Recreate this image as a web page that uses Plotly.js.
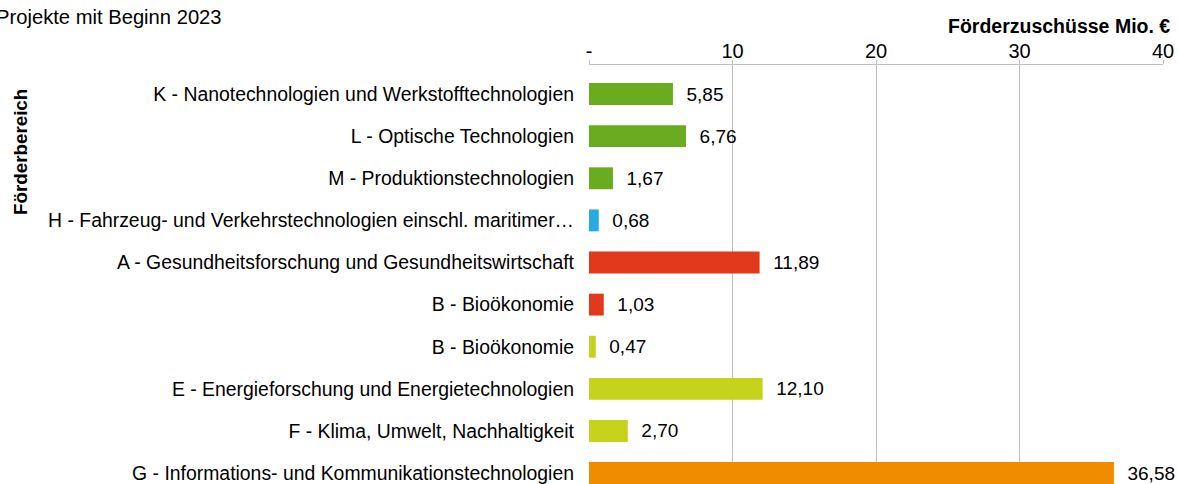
<!DOCTYPE html>
<html><head><meta charset="utf-8">
<script src="https://cdn.plot.ly/plotly-3.0.1.min.js"></script>
<style>html,body{margin:0;padding:0;background:#fff}</style>
</head><body>
<div id="chart" style="width:1178px;height:484px"></div>
<script>
const categories = [
  "K - Nanotechnologien und Werkstofftechnologien",
  "L - Optische Technologien",
  "M - Produktionstechnologien",
  "H - Fahrzeug- und Verkehrstechnologien einschl. maritimer…",
  "A - Gesundheitsforschung und Gesundheitswirtschaft",
  "B - Bioökonomie",
  "B - Bioökonomie",
  "E - Energieforschung und Energietechnologien",
  "F - Klima, Umwelt, Nachhaltigkeit",
  "G - Informations- und Kommunikationstechnologien"
];
const values = [5.85, 6.76, 1.67, 0.68, 11.89, 1.03, 0.47, 12.10, 2.70, 36.58];
const barColors = ["#6aac1f","#6aac1f","#6aac1f","#2aa8e0","#e2381b","#e2381b","#c5d41a","#c5d41a","#c5d41a","#f08c00"];
const xTickVals = [0, 10, 20, 30, 40];
const xTickText = ["-", "10", "20", "30", "40"];
const subtitle = "Projekte mit Beginn 2023";
const xTitle = "Förderzuschüsse Mio. €";
const yTitle = "Förderbereich";

const positions = categories.map((_, i) => i);
const fmt = v => v.toFixed(2).replace(".", ",");
const FONT = "Liberation Sans, Arial, sans-serif";

const L = 589, R = 15, W = 1178, T = 65, H = 484;
const pw = W - L - R, ph = H - T;
const px = p => (p - L) / pw;
const py = p => 1 - (p - T) / ph;

const trace = {
  type: "bar",
  orientation: "h",
  x: values,
  y: positions,
  width: 0.52,
  marker: {color: barColors},
  text: values.map(v => "  " + fmt(v)),
  textposition: "outside",
  textfont: {family: FONT, size: 19, color: "#000"},
  cliponaxis: false,
  constraintext: "none",
  hoverinfo: "none"
};

const layout = {
  width: W, height: H,
  margin: {l: L, r: R, t: T, b: 0, pad: 0},
  paper_bgcolor: "#fff", plot_bgcolor: "#fff",
  showlegend: false,
  font: {family: FONT, size: 19, color: "#000"},
  xaxis: {
    side: "top", range: [0, 40], tickvals: xTickVals, ticktext: xTickText,
    showgrid: true, gridcolor: "#bfbfbf", gridwidth: 1,
    showline: true, linecolor: "#bfbfbf", linewidth: 1,
    ticks: "outside", ticklen: 4, tickcolor: "#bfbfbf",
    ticklabelstandoff: -6,
    tickfont: {family: FONT, size: 20, color: "#000"},
    zeroline: false, fixedrange: true
  },
  yaxis: {
    range: [9.26, -0.69], tickvals: positions, ticktext: categories,
    showgrid: false, zeroline: false, showline: false, ticks: "",
    ticklabelstandoff: 14,
    tickfont: {family: FONT, size: 19.4, color: "#000"},
    fixedrange: true
  },
  annotations: [
    {xref: "paper", yref: "paper", x: px(-6), y: py(17), xanchor: "left", yanchor: "middle",
     text: subtitle, showarrow: false, font: {family: FONT, size: 20.2, color: "#000"}},
    {xref: "paper", yref: "paper", x: px(1172), y: py(26), xanchor: "right", yanchor: "middle",
     text: "<b>" + xTitle + "</b>", showarrow: false, font: {family: FONT, size: 19.5, color: "#000"}},
    {xref: "paper", yref: "paper", x: px(20), y: py(152), xanchor: "center", yanchor: "middle",
     text: "<b>" + yTitle + "</b>", textangle: -90, showarrow: false, font: {family: FONT, size: 18.8, color: "#000"}}
  ]
};

Plotly.newPlot("chart", [trace], layout, {displayModeBar: false, staticPlot: true});
</script>
</body></html>
